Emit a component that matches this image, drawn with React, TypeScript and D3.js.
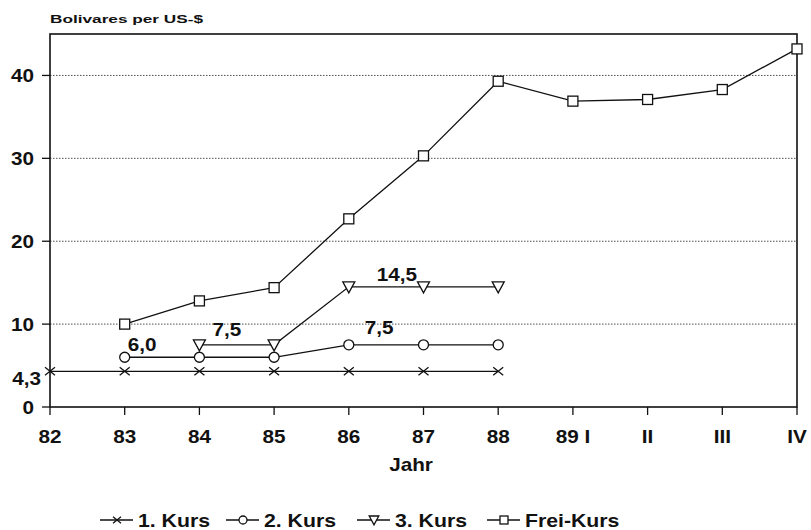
import * as d3 from "d3";

const categories = ["82", "83", "84", "85", "86", "87", "88", "89 I", "II", "III", "IV"];
const kurs1 = [4.3, 4.3, 4.3, 4.3, 4.3, 4.3, 4.3];
const kurs1Cats = ["82", "83", "84", "85", "86", "87", "88"];
const kurs2 = [6.0, 6.0, 6.0, 7.5, 7.5, 7.5];
const kurs2Cats = ["83", "84", "85", "86", "87", "88"];
const kurs3 = [7.5, 7.5, 14.5, 14.5, 14.5];
const kurs3Cats = ["84", "85", "86", "87", "88"];
const freiKurs = [10.0, 12.8, 14.4, 22.7, 30.3, 39.3, 36.9, 37.1, 38.3, 43.2];
const freiCats = ["83", "84", "85", "86", "87", "88", "89 I", "II", "III", "IV"];
const yTicks = [0, 10, 20, 30, 40];
const gridTicks = [10, 20, 30, 40];

const annotations = [
  { text: "6,0", cat: "83", v: 6.0, dx: 3, dy: -6 },
  { text: "7,5", cat: "84", v: 7.5, dx: 13, dy: -9 },
  { text: "14,5", cat: "86", v: 14.5, dx: 28, dy: -6 },
  { text: "7,5", cat: "86", v: 7.5, dx: 16, dy: -11 },
];

const W = 811, H = 530;
const left = 50, right = 797, top = 34, bottom = 407;
const font = "'Liberation Sans', Arial, sans-serif";

function Txt({ x, y, anchor = "start", size = 18, sx = 1.15, children }: any) {
  return (
    <text transform={`translate(${x},${y}) scale(${sx},1)`} textAnchor={anchor} fontSize={size} fontWeight="bold" fill="#111">
      {children}
    </text>
  );
}

function Marker({ type, x, y, k = 1 }: { type: string; x: number; y: number; k?: number }) {
  const s = { fill: "white", stroke: "#111", strokeWidth: 1.3 };
  if (type === "x")
    return <path d={`M${x - 5 * k},${y - 4 * k}L${x + 5 * k},${y + 4 * k}M${x - 5 * k},${y + 4 * k}L${x + 5 * k},${y - 4 * k}`} stroke="#111" strokeWidth={1.3} />;
  if (type === "o") return <circle cx={x} cy={y} r={5 * k} {...s} />;
  if (type === "v") return <path d={`M${x - 6 * k},${y - 5 * k}L${x + 6 * k},${y - 5 * k}L${x},${y + 6 * k}Z`} {...s} />;
  return <rect x={x - 5 * k} y={y - 5 * k} width={10 * k} height={10 * k} {...s} />;
}

export default function App() {
  const x = d3.scalePoint<string>().domain(categories).range([left, right]);
  const y = d3.scaleLinear().domain([0, 45]).range([bottom, top]);
  const line = d3.line<[string, number]>().x((d) => x(d[0])!).y((d) => y(d[1]));

  const series = [
    { name: "1. Kurs", type: "x", cats: kurs1Cats, vals: kurs1 },
    { name: "2. Kurs", type: "o", cats: kurs2Cats, vals: kurs2 },
    { name: "3. Kurs", type: "v", cats: kurs3Cats, vals: kurs3 },
    { name: "Frei-Kurs", type: "s", cats: freiCats, vals: freiKurs },
  ];
  const legendX = [100, 226, 357, 487];

  return (
    <svg width={W} height={H} style={{ position: "absolute", left: 0, top: 0, background: "white" }} fontFamily={font}>
      <text x={50} y={23} fontSize={11} fontWeight="bold" textLength={153} lengthAdjust="spacingAndGlyphs" fill="#111">
        Bolivares per US-$
      </text>

      {gridTicks.map((t) => (
        <line key={t} x1={left} x2={right} y1={y(t)} y2={y(t)} stroke="#222" strokeWidth={0.8} strokeDasharray="1.5,1.5" />
      ))}
      <rect x={left} y={top} width={right - left} height={bottom - top} fill="none" stroke="#111" strokeWidth={1.6} />

      {yTicks.map((t) => (
        <g key={t}>
          <line x1={left - 8} x2={left} y1={y(t)} y2={y(t)} stroke="#111" strokeWidth={1.3} />
          <Txt x={left - 16} y={y(t) + 6.5} anchor="end">{t}</Txt>
        </g>
      ))}
      <Txt x={41} y={385} anchor="end">4,3</Txt>

      {categories.map((c) => (
        <g key={c}>
          <line x1={x(c)!} x2={x(c)!} y1={bottom} y2={bottom + 8} stroke="#111" strokeWidth={1.3} />
          <Txt x={x(c)!} y={bottom + 36} anchor="middle">{c}</Txt>
        </g>
      ))}
      <Txt x={411} y={471} anchor="middle">Jahr</Txt>

      {series.map((s) => {
        const pts = s.cats.map((c, i) => [c, s.vals[i]] as [string, number]);
        return (
          <g key={s.name}>
            <path d={line(pts)!} fill="none" stroke="#111" strokeWidth={1.3} />
            {pts.map((p, i) => (
              <Marker key={i} type={s.type} x={x(p[0])!} y={y(p[1])} />
            ))}
          </g>
        );
      })}

      {annotations.map((a, i) => (
        <Txt key={i} x={x(a.cat)! + a.dx} y={y(a.v) + a.dy}>{a.text}</Txt>
      ))}

      {series.map((s, i) => (
        <g key={s.name}>
          <line x1={legendX[i]} x2={legendX[i] + 33} y1={520} y2={520} stroke="#111" strokeWidth={1.3} />
          <Marker type={s.type} x={legendX[i] + 17} y={520} k={0.8} />
          <Txt x={legendX[i] + 38} y={527} size={18} sx={1.18}>{s.name}</Txt>
        </g>
      ))}
    </svg>
  );
}
